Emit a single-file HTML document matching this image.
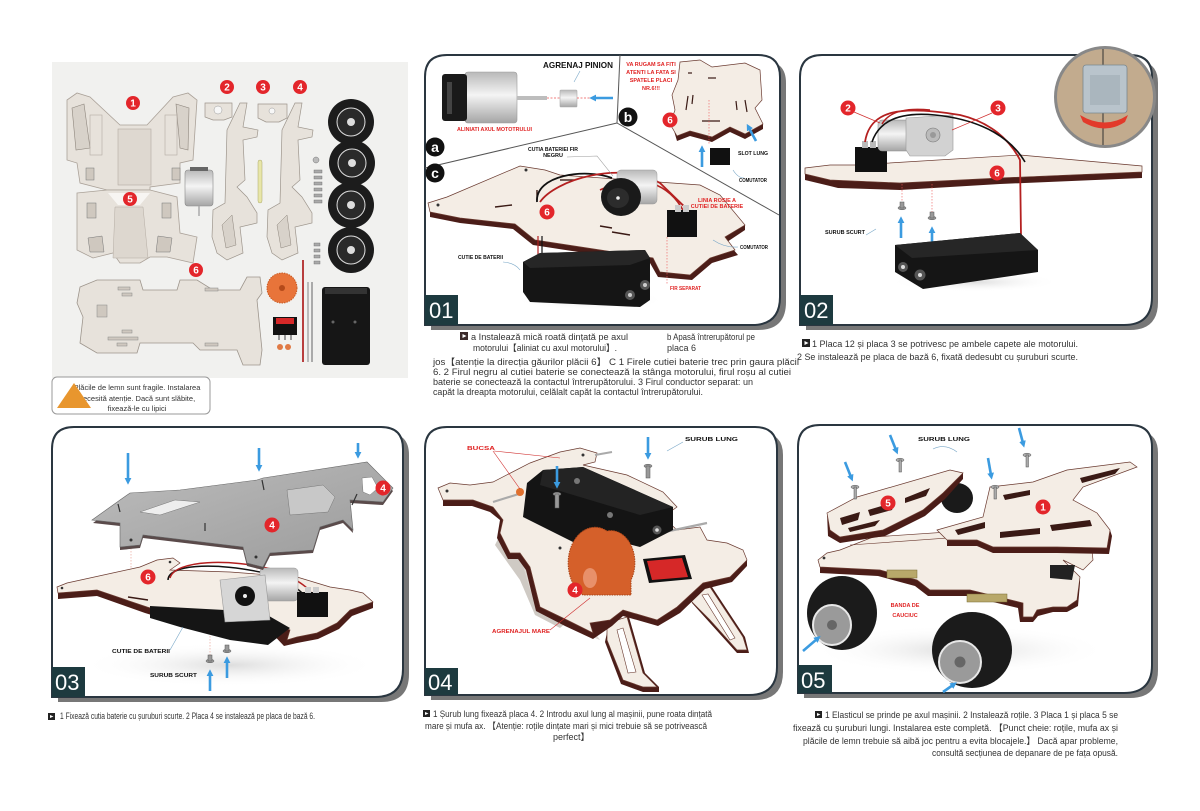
<!DOCTYPE html>
<html><head><meta charset="utf-8">
<style>
html,body{margin:0;padding:0;background:#fff;}
svg{display:block;}
text{font-family:"Liberation Sans",sans-serif;}
.lb{font-weight:bold;font-size:5.5px;fill:#111;}
.lr{font-weight:bold;font-size:5.5px;fill:#e02424;}
.n circle{fill:#e3262b;}
.n text{fill:#fff;font-weight:bold;font-size:10px;text-anchor:middle;}
.ba{stroke:#3b9be0;stroke-width:2.6;fill:none;marker-end:url(#ah);}
.w{fill:#f4ede5;stroke:#6a3a30;stroke-width:.7;}
.e{fill:#4b1d18;}
.p{font-size:9px;fill:#333;}
.fr{fill:#fff;stroke:#2a3640;stroke-width:2;}
.sh{fill:#777;}
.lbx{fill:#1d3a3f;}
.lbt{fill:#fff;font-size:22px;}
.ld{stroke:#7aa8c8;stroke-width:.6;fill:none;}
.ldr{stroke:#d03030;stroke-width:.6;fill:none;}
</style></head>
<body>
<svg width="1200" height="811" viewBox="0 0 1200 811" xmlns="http://www.w3.org/2000/svg">
<defs>
<marker id="ah" viewBox="0 0 10 10" refX="3" refY="5" markerWidth="2.6" markerHeight="2.6" orient="auto"><path d="M0,0 L10,5 L0,10 Z" fill="#3b9be0"/></marker>
<linearGradient id="sil" x1="0" y1="0" x2="0" y2="1"><stop offset="0" stop-color="#b9b9b9"/><stop offset=".45" stop-color="#f4f4f4"/><stop offset="1" stop-color="#a5a5a5"/></linearGradient>
<linearGradient id="gry" x1="0" y1="0" x2="1" y2="1"><stop offset="0" stop-color="#bdbdbd"/><stop offset="1" stop-color="#9a9a9a"/></linearGradient>
<radialGradient id="shd" cx=".5" cy=".5" r=".5"><stop offset="0" stop-color="#ddd"/><stop offset="1" stop-color="#fff" stop-opacity="0"/></radialGradient>
</defs>
<rect width="1200" height="811" fill="#fff"/>

<!-- ================= PARTS AREA ================= -->
<rect x="52" y="62" width="356" height="316" fill="#f1f1ef"/>
<!-- plate 1 -->
<polygon points="67,100 77,93 90,97 120,125 147,125 173,97 188,93 197,100 193,160 180,163 180,183 150,187 150,190 107,190 80,183 77,163 67,160" fill="#e7e2db" stroke="#aaa198" stroke-width=".8"/>
<polygon points="72,108 84,104 90,148 76,150" fill="#d8d2ca" stroke="#8d857c" stroke-width=".6"/>
<polygon points="176,104 189,108 188,150 180,148" fill="#d8d2ca" stroke="#8d857c" stroke-width=".6"/>
<rect x="118" y="129" width="33" height="56" fill="#ded8d0" stroke="#b3aba2" stroke-width=".6"/>
<rect x="90" y="115" width="12" height="40" fill="none" stroke="#b3aba2" stroke-width=".6"/>
<rect x="165" y="115" width="12" height="40" fill="none" stroke="#b3aba2" stroke-width=".6"/>
<rect x="86" y="168" width="8" height="12" fill="#cfc8bf" stroke="#777" stroke-width=".5"/>
<rect x="172" y="168" width="8" height="12" fill="#cfc8bf" stroke="#777" stroke-width=".5"/>
<!-- plate 5 -->
<polygon points="77,193 107,190 150,190 177,197 180,233 197,237 193,263 167,257 150,257 140,263 120,263 113,253 93,258 77,250 77,232" fill="#e7e2db" stroke="#aaa198" stroke-width=".8"/>
<polygon points="108,193 150,193 140,205 118,205" fill="#f7f5f2"/>
<polygon points="115,207 143,207 148,258 113,258" fill="#ddd7cf" stroke="#b3aba2" stroke-width=".5"/>
<rect x="87" y="203" width="9" height="15" fill="#cfc8bf" stroke="#777" stroke-width=".5"/>
<rect x="162" y="203" width="9" height="15" fill="#cfc8bf" stroke="#777" stroke-width=".5"/>
<polygon points="88,238 102,236 104,252 90,252" fill="#cfc8bf" stroke="#777" stroke-width=".5"/>
<polygon points="158,236 172,238 170,252 156,252" fill="#cfc8bf" stroke="#777" stroke-width=".5"/>
<g class="n" transform="translate(133,103)"><circle r="7"/><text y="3.5">1</text></g>
<g class="n" transform="translate(130,199)"><circle r="7"/><text y="3.5">5</text></g>
<!-- motor -->
<rect x="185" y="170" width="28" height="36" rx="3" fill="url(#sil)" stroke="#888" stroke-width=".6"/>
<rect x="190" y="167" width="18" height="4" fill="#666"/>
<line x1="199" y1="206" x2="199" y2="216" stroke="#aaa" stroke-width="1.5"/>
<!-- small plates 2,3 -->
<polygon points="205,103 232,103 232,117 224,120 213,120 205,117" fill="#e7e2db" stroke="#9d958c" stroke-width=".7"/>
<circle cx="218" cy="110" r="4" fill="#f7f7f7" stroke="#999" stroke-width=".5"/>
<polygon points="258,104 287,104 287,118 279,122 266,122 258,118" fill="#e7e2db" stroke="#9d958c" stroke-width=".7"/>
<circle cx="272" cy="111" r="3" fill="#f7f7f7" stroke="#999" stroke-width=".5"/>
<g class="n" transform="translate(227,87)"><circle r="7"/><text y="3.5">2</text></g>
<g class="n" transform="translate(263,87)"><circle r="7"/><text y="3.5">3</text></g>
<g class="n" transform="translate(300,87)"><circle r="7"/><text y="3.5">4</text></g>
<!-- side plates 4 -->
<polygon points="212,237 213,210 225,203 227,130 240,103 247,103 243,127 258,130 257,137 243,140 245,180 237,187 247,197 257,213 257,223 240,227 243,253 227,260 217,253" fill="#e7e2db" stroke="#9d958c" stroke-width=".7"/>
<polygon points="267,237 268,210 280,203 282,130 295,103 302,103 298,127 313,130 312,137 298,140 300,180 292,187 302,197 312,213 312,223 295,227 298,253 282,260 272,253" fill="#e7e2db" stroke="#9d958c" stroke-width=".7"/>
<polygon points="222,225 232,215 236,245 226,248" fill="#d8d2ca" stroke="#8d857c" stroke-width=".5"/>
<polygon points="277,225 287,215 291,245 281,248" fill="#d8d2ca" stroke="#8d857c" stroke-width=".5"/>
<rect x="258" y="160" width="4" height="43" rx="2" fill="#e8e6a8" stroke="#aaa86a" stroke-width=".5"/>
<!-- screws -->
<circle cx="316" cy="160" r="3" fill="#bbb" stroke="#777" stroke-width=".5"/>
<g fill="#aaa" stroke="#666" stroke-width=".4">
<rect x="314" y="170" width="8" height="3"/><rect x="314" y="176" width="8" height="3"/><rect x="314" y="182" width="8" height="3"/><rect x="314" y="188" width="8" height="3"/><rect x="314" y="194" width="8" height="3"/><rect x="314" y="200" width="8" height="3"/>
<rect x="314" y="243" width="6" height="3"/><rect x="314" y="249" width="6" height="3"/><rect x="314" y="255" width="6" height="3"/><rect x="314" y="261" width="6" height="3"/>
</g>
<!-- wheels -->
<g>
<circle cx="351" cy="122" r="23" fill="#1c1c1c"/><circle cx="351" cy="122" r="14" fill="#2a2a2a" stroke="#ddd" stroke-width="1"/><circle cx="351" cy="122" r="4" fill="#ddd"/>
<circle cx="352" cy="163" r="23" fill="#1c1c1c"/><circle cx="352" cy="163" r="14" fill="#2a2a2a" stroke="#ddd" stroke-width="1"/><circle cx="352" cy="163" r="4" fill="#ddd"/>
<circle cx="351" cy="205" r="23" fill="#1c1c1c"/><circle cx="351" cy="205" r="14" fill="#2a2a2a" stroke="#ddd" stroke-width="1"/><circle cx="351" cy="205" r="4" fill="#ddd"/>
<circle cx="351" cy="250" r="23" fill="#1c1c1c"/><circle cx="351" cy="250" r="14" fill="#2a2a2a" stroke="#ddd" stroke-width="1"/><circle cx="351" cy="250" r="4" fill="#ddd"/>
</g>
<!-- plate 6 -->
<polygon points="80,287 97,280 140,280 143,290 177,290 180,280 197,280 213,290 240,290 247,277 260,277 262,293 257,300 262,350 260,365 243,365 237,350 200,350 193,343 140,343 137,353 97,353 80,343 83,317 77,303" fill="#e7e2db" stroke="#9d958c" stroke-width=".8"/>
<g fill="#cfc8bf" stroke="#888" stroke-width=".5">
<rect x="118" y="287" width="12" height="3"/><rect x="122" y="293" width="10" height="3"/><rect x="205" y="288" width="13" height="3"/>
<rect x="97" y="305" width="10" height="12"/><rect x="122" y="330" width="10" height="3"/><rect x="108" y="337" width="30" height="3"/><rect x="117" y="343" width="10" height="3"/><rect x="205" y="343" width="13" height="3"/>
</g>
<g class="n" transform="translate(196,270)"><circle r="7"/><text y="3.5">6</text></g>
<!-- gear, switch, rods, battery -->
<circle cx="282" cy="288" r="15" fill="#e8743a" stroke="#c95a22" stroke-width="1" stroke-dasharray="1.5 1"/>
<circle cx="282" cy="288" r="3" fill="#b44a1a"/>
<rect x="273" y="317" width="24" height="18" fill="#111"/>
<rect x="276" y="318" width="18" height="6" fill="#d62828"/>
<rect x="278" y="335" width="2" height="5" fill="#999"/><rect x="284" y="335" width="2" height="5" fill="#999"/><rect x="290" y="335" width="2" height="5" fill="#999"/>
<circle cx="280" cy="347" r="3" fill="#e07a45"/><circle cx="288" cy="347" r="3" fill="#e07a45"/>
<line x1="303" y1="260" x2="303" y2="362" stroke="#b22a2a" stroke-width="1.8"/>
<line x1="308" y1="282" x2="308" y2="362" stroke="#bbb" stroke-width="2"/>
<line x1="312" y1="282" x2="312" y2="362" stroke="#aaa" stroke-width="2"/>
<rect x="322" y="287" width="48" height="78" rx="3" fill="#161616"/>
<rect x="325" y="288" width="42" height="6" fill="#333"/>
<circle cx="333" cy="322" r="1.5" fill="#666"/><circle cx="355" cy="322" r="1.5" fill="#666"/>

<!-- warning box -->
<rect x="52" y="377" width="158" height="37" rx="5" fill="#fff" stroke="#999" stroke-width="1"/>
<text x="137" y="390" font-size="7.5" fill="#333" text-anchor="middle">Plăcile de lemn sunt fragile. Instalarea</text>
<text x="137" y="401" font-size="7.5" fill="#333" text-anchor="middle">necesită atenție. Dacă sunt slăbite,</text>
<text x="137" y="411" font-size="7.5" fill="#333" text-anchor="middle">fixează-le cu lipici</text>
<polygon points="74,383 91,408 57,408" fill="#e8962e"/>

<!-- ================= PANEL 01 ================= -->
<path class="sh" d="M431,330 V82 Q431,61 453,61 H764 Q786,61 786,83 V302 Q786,330 758,330 Z"/>
<path class="fr" d="M425,325 V77 Q425,55 447,55 H758 Q780,55 780,77 V297 Q780,325 752,325 Z"/>
<!-- dividers -->
<line x1="425" y1="168" x2="617" y2="123" stroke="#555" stroke-width="1"/>
<line x1="620" y1="55" x2="617" y2="123" stroke="#555" stroke-width="1"/>
<line x1="617" y1="123" x2="779" y2="215" stroke="#555" stroke-width="1"/>
<!-- section a -->
<rect x="465" y="72" width="52" height="51" rx="3" fill="url(#sil)" stroke="#999" stroke-width=".6"/>
<rect x="442" y="74" width="25" height="47" rx="3" fill="#1a1a1a"/>
<rect x="447" y="82" width="5" height="32" fill="#444"/>
<rect x="517" y="96" width="30" height="4" fill="#bdbdbd"/>
<rect x="560" y="90" width="17" height="17" rx="1" fill="url(#sil)" stroke="#aaa" stroke-width=".6"/>
<line x1="547" y1="98" x2="560" y2="98" stroke="#e55" stroke-width=".7" stroke-dasharray="2 1.5"/>
<line x1="577" y1="98" x2="590" y2="98" stroke="#e55" stroke-width=".7" stroke-dasharray="2 1.5"/>
<path class="ba" d="M613,98 L594,98"/>
<text x="543" y="68" font-size="8.5" font-weight="bold" fill="#111" textLength="70" lengthAdjust="spacingAndGlyphs">AGRENAJ PINION</text>
<line x1="580" y1="71" x2="574" y2="82" stroke="#7aa8c8" stroke-width=".6"/>
<text x="457" y="131" class="lr" textLength="75" lengthAdjust="spacingAndGlyphs">ALINIATI AXUL MOTOTRULUI</text>
<circle cx="435" cy="147" r="9.5" fill="#111"/><text x="435" y="152" font-size="14" font-weight="bold" fill="#fff" text-anchor="middle">a</text>
<!-- section b -->
<text x="651" y="66" class="lr" font-size="6.5" text-anchor="middle">VA RUGAM SA FITI</text>
<text x="651" y="74" class="lr" font-size="6.5" text-anchor="middle">ATENTI LA FATA SI</text>
<text x="651" y="82" class="lr" font-size="6.5" text-anchor="middle">SPATELE PLACI</text>
<text x="651" y="90" class="lr" font-size="6.5" text-anchor="middle">NR.6!!!</text>
<polygon class="e" points="672,124 677,141 690,136 712,142 730,132 745,139 763,129 763,124 745,134 730,127 712,137 690,131 677,136"/>
<polygon class="w" points="680,62 700,60 712,67 745,63 760,70 762,100 755,108 763,124 745,134 730,127 712,137 690,131 677,136 670,124 675,110 672,95 678,80"/>
<g stroke="#3a1a15" stroke-width="1.2"><line x1="688" y1="73" x2="692" y2="73"/><line x1="708" y1="78" x2="716" y2="78"/><line x1="702" y1="121" x2="720" y2="121"/><line x1="688" y1="96" x2="686" y2="110"/><line x1="745" y1="100" x2="747" y2="112"/><line x1="736" y1="101" x2="737" y2="110"/><line x1="693" y1="95" x2="692" y2="104"/></g>
<line x1="709" y1="100" x2="709" y2="145" stroke="#e55" stroke-width=".6" stroke-dasharray="1.5 1.5"/>
<g class="n" transform="translate(670,120)"><circle r="7.5"/><text y="3.5">6</text></g>
<circle cx="628" cy="117" r="9.5" fill="#111"/><text x="628" y="122" font-size="14" font-weight="bold" fill="#fff" text-anchor="middle">b</text>
<rect x="710" y="148" width="20" height="17" fill="#111"/>
<path class="ba" d="M702,167 L702,150"/>
<path class="ba" d="M756,141 L749,128"/>
<text x="738" y="155" class="lb" textLength="30" lengthAdjust="spacingAndGlyphs">SLOT LUNG</text>
<path class="ld" d="M733,170 Q738,178 744,178"/>
<text x="739" y="182" class="lb" font-size="4.8" textLength="28" lengthAdjust="spacingAndGlyphs">COMUTATOR</text>
<!-- section c -->
<circle cx="435" cy="173" r="9.5" fill="#111"/><text x="435" y="178" font-size="14" font-weight="bold" fill="#fff" text-anchor="middle">c</text>
<polygon class="e" points="430,212 460,218 515,224 535,240 653,258 660,272 690,275 710,258 735,250 725,237 745,225 745,230 727,242 738,255 712,263 692,280 658,277 650,263 533,245 513,229 460,223 430,217"/>
<polygon class="w" points="428,203 447,197 520,166 545,170 560,175 700,185 720,195 745,225 725,237 735,250 710,258 690,275 660,272 653,258 535,240 515,224 460,218 430,212"/>
<g stroke="#3a1a15" stroke-width="1.4"><line x1="495" y1="207" x2="512" y2="205"/><line x1="560" y1="180" x2="574" y2="180"/><line x1="612" y1="232" x2="630" y2="235"/><line x1="600" y1="226" x2="612" y2="228"/><line x1="537" y1="190" x2="537" y2="200"/></g>
<circle cx="438" cy="205" r="1.5" fill="#333"/><circle cx="526" cy="170" r="1.5" fill="#333"/>
<!-- wires -->
<path d="M537,202 C535,175 585,168 612,178" stroke="#111" stroke-width="1.8" fill="none"/>
<path d="M540,202 C555,180 620,160 660,183 L690,212" stroke="#b42020" stroke-width="1.8" fill="none"/>
<path d="M600,190 C640,170 670,185 684,212" stroke="#b42020" stroke-width="1.6" fill="none"/>
<!-- motor c -->
<rect x="617" y="170" width="40" height="34" rx="4" fill="url(#sil)" stroke="#999" stroke-width=".5"/>
<ellipse cx="621" cy="197" rx="20" ry="19" fill="#1a1a1a"/>
<ellipse cx="618" cy="198" rx="11" ry="10" fill="#2c2c2c"/>
<circle cx="618" cy="198" r="1.8" fill="#eee"/>
<rect x="667" y="210" width="30" height="27" fill="#111"/>
<rect x="675" y="205" width="6" height="7" fill="#ccc"/><rect x="683" y="205" width="6" height="7" fill="#ccc"/>
<g class="n" transform="translate(547,212)"><circle r="7.5"/><text y="3.5">6</text></g>
<!-- battery c -->
<line x1="538" y1="236" x2="538" y2="258" stroke="#b42020" stroke-width="1.2"/>
<line x1="542" y1="236" x2="542" y2="258" stroke="#111" stroke-width="1.2"/>
<ellipse cx="590" cy="300" rx="75" ry="10" fill="url(#shd)"/>
<polygon points="523,262 540,253 645,250 650,258 650,300 640,307 530,302 523,292" fill="#151515"/>
<polygon points="523,262 540,253 645,250 650,258 630,265 530,268" fill="#262626"/>
<circle cx="645" cy="285" r="5" fill="#555"/><circle cx="645" cy="285" r="2" fill="#ccc"/>
<circle cx="630" cy="295" r="5" fill="#555"/><circle cx="630" cy="295" r="2" fill="#ccc"/>
<line x1="667" y1="237" x2="667" y2="285" stroke="#e55" stroke-width=".6" stroke-dasharray="1.5 1.5"/>
<text x="528" y="151" class="lb" textLength="50" lengthAdjust="spacingAndGlyphs">CUTIA BATERIEI FIR</text>
<text x="553" y="157" class="lb" text-anchor="middle">NEGRU</text>
<path class="ld" d="M567,157 L597,156 L613,176" style="stroke:#999"/>
<text x="717" y="202" class="lr" font-size="4.8" text-anchor="middle">LINIA ROSIE A</text>
<text x="717" y="208" class="lr" font-size="4.8" text-anchor="middle">CUTIEI DE BATERIE</text>
<path class="ld" d="M713,240 Q725,248 738,247"/>
<text x="740" y="249" class="lb" font-size="4.8" textLength="28" lengthAdjust="spacingAndGlyphs">COMUTATOR</text>
<text x="458" y="259" class="lb" textLength="45" lengthAdjust="spacingAndGlyphs">CUTIE DE BATERII</text>
<path class="ld" d="M503,262 Q515,263 520,270"/>
<text x="670" y="290" class="lr" textLength="31" lengthAdjust="spacingAndGlyphs">FIR SEPARAT</text>
<rect class="lbx" x="425" y="295" width="33" height="30"/>
<text class="lbt" x="429" y="318">01</text>

<!-- text 01 -->
<rect x="460" y="332" width="8" height="8" fill="#3a2a2a"/><polygon points="462.5,334 466.5,336 462.5,338" fill="#fff"/>
<text class="p" x="471" y="340" textLength="157" lengthAdjust="spacingAndGlyphs">a Instalează mică roată dințată pe axul</text>
<text class="p" x="473" y="351" textLength="144" lengthAdjust="spacingAndGlyphs">motorului【aliniat cu axul motorului】.</text>
<text class="p" x="667" y="340" font-size="7.5" textLength="88" lengthAdjust="spacingAndGlyphs">b Apasă întrerupătorul pe</text>
<text class="p" x="667" y="351" font-size="7.5">placa 6</text>
<text class="p" x="433" y="365" textLength="366" lengthAdjust="spacingAndGlyphs">jos【atenție la direcția găurilor plăcii 6】 C 1 Firele cutiei baterie trec prin gaura plăcii</text>
<text class="p" x="433" y="375" textLength="358" lengthAdjust="spacingAndGlyphs">6. 2 Firul negru al cutiei baterie se conectează la stânga motorului, firul roșu al cutiei</text>
<text class="p" x="433" y="385" textLength="320" lengthAdjust="spacingAndGlyphs">baterie se conectează la contactul întrerupătorului. 3 Firul conductor separat: un</text>
<text class="p" x="433" y="395" textLength="270" lengthAdjust="spacingAndGlyphs">capăt la dreapta motorului, celălalt capăt la contactul întrerupătorului.</text>

<!-- ================= PANEL 02 ================= -->
<path class="sh" d="M806,330 V82 Q806,61 828,61 H1136 Q1158,61 1158,83 V302 Q1158,330 1130,330 Z"/>
<path class="fr" d="M800,325 V77 Q800,55 822,55 H1130 Q1152,55 1152,77 V297 Q1152,325 1124,325 Z"/>
<!-- inset circle -->
<circle cx="1105" cy="97" r="51" fill="#888"/>
<circle cx="1105" cy="97" r="48" fill="#c2ab8e"/>
<line x1="1103" y1="49" x2="1103" y2="145" stroke="#333" stroke-width="1"/>
<rect x="1083" y="65" width="44" height="48" rx="3" fill="#b9c4cc" stroke="#7a8890" stroke-width=".8"/>
<rect x="1090" y="75" width="30" height="30" fill="#aab6be"/>
<path d="M1080,115 Q1105,130 1128,115 L1125,122 Q1105,135 1083,122 Z" fill="#e23a2a"/>
<!-- plate -->
<polygon class="e" points="805,174 830,180 900,183 1000,178 1142,172 1142,178 1000,184 900,190 838,188 830,186 805,180"/>
<polygon class="w" points="805,168 830,165 857,165 1020,155 1142,166 1142,172 1000,178 900,183 830,180 805,174"/>
<!-- switch and motor -->
<rect x="855" y="147" width="32" height="25" fill="#111"/>
<rect x="862" y="141" width="6" height="7" fill="#bbb"/><rect x="870" y="141" width="6" height="7" fill="#bbb"/>
<rect x="878" y="120" width="32" height="31" rx="4" fill="url(#sil)" stroke="#888" stroke-width=".5"/>
<polygon points="906,118 953,115 953,150 945,156 910,156 906,150" fill="#d2d2d2" stroke="#999" stroke-width=".6"/>
<circle cx="933" cy="135" r="7" fill="#bbb" stroke="#777" stroke-width=".6"/><circle cx="933" cy="135" r="3" fill="#999"/>
<path d="M865,142 C870,110 900,105 960,115 C990,122 1010,140 1020,160 L1021,236" stroke="#b42020" stroke-width="1.8" fill="none"/>
<path d="M872,142 C880,118 905,112 935,115 C985,120 1012,140 1025,162" stroke="#111" stroke-width="1.6" fill="none"/>
<path d="M882,124 C890,110 910,108 930,110" stroke="#b42020" stroke-width="1.4" fill="none"/>
<g class="n" transform="translate(848,108)"><circle r="7.5"/><text y="3.5">2</text></g>
<line x1="854" y1="112" x2="880" y2="123" stroke="#d03030" stroke-width=".7"/>
<g class="n" transform="translate(998,108)"><circle r="7.5"/><text y="3.5">3</text></g>
<line x1="992" y1="113" x2="952" y2="130" stroke="#d03030" stroke-width=".7"/>
<g class="n" transform="translate(997,173)"><circle r="7.5"/><text y="3.5">6</text></g>
<line x1="902" y1="184" x2="902" y2="205" stroke="#e55" stroke-width=".6" stroke-dasharray="1.5 1.5"/>
<line x1="932" y1="184" x2="932" y2="215" stroke="#e55" stroke-width=".6" stroke-dasharray="1.5 1.5"/>
<g fill="#999" stroke="#555" stroke-width=".5"><ellipse cx="902" cy="208" rx="4" ry="1.8"/><rect x="900" y="202" width="4" height="6"/><ellipse cx="932" cy="218" rx="4" ry="1.8"/><rect x="930" y="212" width="4" height="6"/></g>
<path class="ba" d="M901,238 L901,221"/>
<path class="ba" d="M932,248 L932,231"/>
<text x="825" y="234" class="lb" textLength="40" lengthAdjust="spacingAndGlyphs">SURUB SCURT</text>
<line x1="866" y1="235" x2="876" y2="229" stroke="#7aa8c8" stroke-width=".6"/>
<ellipse cx="975" cy="282" rx="85" ry="10" fill="url(#shd)"/>
<polygon points="895,245 1020,233 1038,250 1038,272 923,289 895,272" fill="#151515"/>
<polygon points="895,245 1020,233 1038,250 912,258" fill="#262626"/>
<circle cx="903" cy="267" r="5" fill="#555"/><circle cx="903" cy="267" r="2" fill="#ddd"/>
<circle cx="920" cy="275" r="5.5" fill="#555"/><circle cx="920" cy="275" r="2" fill="#ddd"/>
<rect class="lbx" x="800" y="295" width="33" height="30"/>
<text class="lbt" x="804" y="318">02</text>
<!-- text 02 -->
<rect x="802" y="339" width="8" height="8" fill="#222"/><polygon points="804.5,341 808.5,343 804.5,345" fill="#fff"/>
<text class="p" x="812" y="347" textLength="266" lengthAdjust="spacingAndGlyphs">1 Placa 12 și placa 3 se potrivesc pe ambele capete ale motorului.</text>
<text class="p" x="797" y="360" textLength="281" lengthAdjust="spacingAndGlyphs">2 Se instalează pe placa de bază 6, fixată dedesubt cu șuruburi scurte.</text>

<!-- ================= PANEL 03 ================= -->
<path class="sh" d="M58,702 V454 Q58,433 80,433 H387 Q409,433 409,455 V674 Q409,702 381,702 Z"/>
<path class="fr" d="M52,697 V449 Q52,427 74,427 H381 Q403,427 403,449 V669 Q403,697 375,697 Z"/>
<ellipse cx="230" cy="665" rx="150" ry="22" fill="url(#shd)"/>
<!-- dashed guides -->
<g stroke="#e08070" stroke-width=".5" stroke-dasharray="1.5 1.5">
<line x1="131" y1="545" x2="131" y2="607"/><line x1="210" y1="600" x2="210" y2="655"/><line x1="257" y1="565" x2="257" y2="625"/>
</g>
<!-- base plate 6 -->
<polygon class="e" points="58,593 97,590 147,607 180,617 203,623 270,623 290,630 287,640 297,637 317,633 337,623 350,610 373,602 373,608 352,616 339,629 318,639 297,643 284,646 268,629 203,629 178,623 145,613 97,596 58,599"/>
<polygon class="w" points="57,587 67,583 140,567 157,560 173,558 180,563 170,570 230,572 297,577 330,587 350,590 363,593 373,602 350,610 337,623 317,633 297,637 287,640 290,630 270,623 203,623 180,617 147,607 97,590 58,593"/>
<polygon points="150,606 262,612 290,628 268,645 230,640 180,627 150,618" fill="#151515"/>
<line x1="128" y1="597" x2="148" y2="600" stroke="#3a1a15" stroke-width="1.4"/>
<circle cx="62" cy="588" r="1.3" fill="#333"/><circle cx="170" cy="562" r="1.3" fill="#333"/>
<g class="n" transform="translate(148,577)"><circle r="7.5"/><text y="3.5">6</text></g>
<path d="M168,580 C168,565 210,562 260,572 C285,578 300,590 305,596" stroke="#111" stroke-width="1.5" fill="none"/>
<path d="M170,578 C175,560 230,558 275,570 C295,578 310,588 312,595" stroke="#b42020" stroke-width="1.5" fill="none"/>
<rect x="260" y="568" width="38" height="33" rx="4" fill="url(#sil)" stroke="#999" stroke-width=".5"/>
<polygon points="220,580 265,575 270,620 225,622" fill="#d6d6d6" stroke="#999" stroke-width=".6"/>
<circle cx="245" cy="596" r="10" fill="#111"/><circle cx="245" cy="596" r="2" fill="#eee"/>
<rect x="297" y="592" width="31" height="25" fill="#111"/>
<rect x="305" y="587" width="6" height="6" fill="#ccc"/><rect x="313" y="587" width="6" height="6" fill="#ccc"/>
<!-- gray plate 4 -->
<polygon points="93,523 120,503 130,496 180,493 257,483 263,481 367,465 393,491 383,505 350,503 353,533 343,523 320,530 313,553 270,556 263,570 247,566 243,550 143,538 140,548 120,550 120,526" fill="#5a4a4a"/>
<polygon points="92,520 120,500 130,493 180,490 257,480 263,478 367,462 393,488 383,502 350,500 353,530 343,520 320,527 313,550 270,553 263,567 247,563 243,547 143,535 140,545 120,547 120,523" fill="url(#gry)" stroke="#666" stroke-width=".6"/>
<polygon points="287,490 323,485 335,497 328,512 290,515" fill="#c8c8c8" stroke="#777" stroke-width=".5"/>
<polygon points="362,478 372,477 378,488 370,495 363,492" fill="#fff" stroke="#777" stroke-width=".5"/>
<polygon points="140,512 175,500 200,502 160,515" fill="#eee" stroke="#777" stroke-width=".5"/>
<g stroke="#333" stroke-width="1.2"><line x1="118" y1="504" x2="120" y2="512"/><line x1="205" y1="523" x2="205" y2="531"/><line x1="262" y1="480" x2="264" y2="490"/><line x1="357" y1="494" x2="352" y2="505"/></g>
<circle cx="131" cy="540" r="1.5" fill="#333"/><circle cx="256" cy="557" r="1.5" fill="#333"/>
<g class="n" transform="translate(383,488)"><circle r="7.5"/><text y="3.5">4</text></g>
<g class="n" transform="translate(272,525)"><circle r="7.5"/><text y="3.5">4</text></g>
<path class="ba" d="M128,453 L128,480"/>
<path class="ba" d="M259,448 L259,467"/>
<path class="ba" d="M358,443 L358,454"/>
<g fill="#999" stroke="#555" stroke-width=".5"><ellipse cx="210" cy="661" rx="4" ry="1.8"/><rect x="208" y="655" width="4" height="6"/><ellipse cx="227" cy="651" rx="4" ry="1.8"/><rect x="225" y="645" width="4" height="6"/></g>
<path class="ba" d="M210,691 L210,674"/>
<path class="ba" d="M227,678 L227,661"/>
<text x="112" y="653" class="lb" textLength="58" lengthAdjust="spacingAndGlyphs">CUTIE DE BATERII</text>
<line x1="170" y1="650" x2="183" y2="627" stroke="#7aa8c8" stroke-width=".6"/>
<text x="150" y="677" class="lb" textLength="47" lengthAdjust="spacingAndGlyphs">SURUB SCURT</text>
<rect class="lbx" x="52" y="667" width="33" height="30"/>
<text class="lbt" x="55" y="690">03</text>
<!-- text 03 -->
<rect x="48" y="713" width="7" height="7" fill="#222"/><polygon points="50,715 53.5,716.5 50,718" fill="#fff"/>
<text class="p" x="60" y="719" font-size="7" textLength="255" lengthAdjust="spacingAndGlyphs">1 Fixează cutia baterie cu șuruburi scurte. 2 Placa 4 se instalează pe placa de bază 6.</text>

<!-- ================= PANEL 04 ================= -->
<path class="sh" d="M431,700 V454 Q431,433 453,433 H761 Q783,433 783,455 V672 Q783,700 755,700 Z"/>
<path class="fr" d="M425,695 V449 Q425,427 447,427 H755 Q777,427 777,449 V667 Q777,695 749,695 Z"/>
<!-- legs -->
<polygon class="e" points="609,623 629,617 645,673 659,687 659,692 643,692 621,684 605,642"/>
<polygon class="w" points="607,623 627,617 643,673 657,687 643,687 623,680 607,640"/>
<polygon points="617,630 623,628 636,672 628,673" fill="#fff" stroke="#6a3a30" stroke-width=".6"/>
<polygon class="e" points="695,590 712,587 745,637 749,653 737,653 710,623 692,603"/>
<polygon class="w" points="693,590 710,587 743,637 747,650 737,650 710,620 690,600"/>
<polygon points="702,595 708,594 735,638 730,640" fill="#fff" stroke="#6a3a30" stroke-width=".6"/>
<!-- side gray -->
<polygon points="500,535 530,565 540,607 567,622 560,628 535,615 520,580 495,545" fill="#cfcac4"/>
<polygon points="520,555 590,625 600,640 575,630 530,590" fill="#ddd8d2"/>
<!-- base -->
<polygon class="e" points="443,500 473,500 493,507 503,520 500,533 510,553 520,553 530,567 540,607 567,620 593,633 590,623 610,620 623,610 657,620 677,607 703,583 730,577 747,560 747,566 732,582 705,589 680,613 658,626 623,616 612,626 593,639 565,626 536,611 526,570 518,559 508,559 497,538 500,520 490,512 472,506 443,506"/>
<polygon class="w" points="438,488 450,483 470,485 493,482 530,463 560,452 580,448 597,453 595,462 583,465 627,475 663,492 677,507 663,517 677,530 700,527 707,540 727,543 743,550 747,560 730,577 703,583 677,607 657,620 623,610 610,620 590,623 593,633 567,620 540,607 530,567 520,553 510,553 500,533 503,520 493,507 473,500 443,500"/>
<circle cx="447" cy="491" r="1.5" fill="#333"/><circle cx="583" cy="455" r="1.5" fill="#333"/><circle cx="560" cy="548" r="1.5" fill="#333"/>
<!-- axles -->
<line x1="493" y1="502" x2="522" y2="493" stroke="#aaa" stroke-width="2.2"/>
<line x1="595" y1="455" x2="612" y2="452" stroke="#aaa" stroke-width="2"/>
<line x1="660" y1="533" x2="707" y2="523" stroke="#aaa" stroke-width="2.2"/>
<line x1="580" y1="578" x2="600" y2="570" stroke="#aaa" stroke-width="2.2"/>
<circle cx="520" cy="492" r="4" fill="#e0702e"/>
<!-- battery -->
<polygon points="527,483 543,470 583,467 673,507 673,530 640,547 613,540 593,543 583,547 523,517" fill="#141414"/>
<polygon points="543,470 583,467 673,507 640,515 540,485" fill="#232323"/>
<circle cx="577" cy="481" r="3" fill="#777"/><circle cx="610" cy="515" r="3" fill="#777"/>
<circle cx="620" cy="545" r="4.5" fill="#555"/><circle cx="620" cy="545" r="1.8" fill="#ddd"/>
<circle cx="657" cy="530" r="4.5" fill="#555"/><circle cx="657" cy="530" r="1.8" fill="#ddd"/>
<!-- gear -->
<path d="M583,595 A24,32 0 0 1 607,531 A24,32 0 0 1 631,580 L631,595 Z" fill="#d5602a" stroke="#a84418" stroke-width="1" stroke-dasharray="1.5 1"/>
<ellipse cx="590" cy="578" rx="7" ry="10" fill="#e8906a"/>
<!-- red switch -->
<polygon points="643,559 685,555 692,579 649,583" fill="#111"/>
<polygon points="647,561 682,558 688,577 652,580" fill="#d62828"/>
<!-- screws -->
<g fill="#999" stroke="#555" stroke-width=".5"><ellipse cx="557" cy="494" rx="4" ry="1.8"/><rect x="555" y="494" width="4" height="14"/><ellipse cx="648" cy="466" rx="4" ry="1.8"/><rect x="646" y="466" width="4" height="12"/></g>
<path class="ba" d="M557,466 L557,484"/>
<path class="ba" d="M648,437 L648,455"/>
<text x="467" y="450" class="lr" font-size="7" textLength="28" lengthAdjust="spacingAndGlyphs">BUCSA</text>
<line x1="493" y1="451" x2="520" y2="489" stroke="#d03030" stroke-width=".6"/>
<line x1="494" y1="451" x2="560" y2="458" stroke="#d03030" stroke-width=".6"/>
<text x="685" y="441" class="lb" font-size="7" textLength="53" lengthAdjust="spacingAndGlyphs">SURUB LUNG</text>
<line x1="667" y1="451" x2="683" y2="442" stroke="#7aa8c8" stroke-width=".6"/>
<g class="n" transform="translate(575,590)"><circle r="7.5"/><text y="3.5">4</text></g>
<text x="492" y="633" class="lr" font-size="7" textLength="58" lengthAdjust="spacingAndGlyphs">AGRENAJUL MARE</text>
<line x1="550" y1="630" x2="590" y2="598" stroke="#d03030" stroke-width=".6"/>
<rect class="lbx" x="425" y="668" width="33" height="27"/>
<text class="lbt" x="428" y="690">04</text>
<!-- text 04 -->
<rect x="423" y="710" width="7" height="7" fill="#222"/><polygon points="425,712 428.5,713.5 425,715" fill="#fff"/>
<text class="p" x="433" y="717" font-size="7.5" textLength="279" lengthAdjust="spacingAndGlyphs">1 Șurub lung fixează placa 4. 2 Introdu axul lung al mașinii, pune roata dințată</text>
<text class="p" x="425" y="729" font-size="7.5" textLength="282" lengthAdjust="spacingAndGlyphs">mare și mufa ax. 【Atenție: roțile dințate mari și mici trebuie să se potrivească</text>
<text class="p" x="553" y="740" font-size="7.5">perfect】</text>

<!-- ================= PANEL 05 ================= -->
<path class="sh" d="M804,698 V452 Q804,431 826,431 H1136 Q1158,431 1158,453 V670 Q1158,698 1130,698 Z"/>
<path class="fr" d="M798,693 V447 Q798,425 820,425 H1130 Q1152,425 1152,447 V665 Q1152,693 1124,693 Z"/>
<ellipse cx="960" cy="650" rx="150" ry="25" fill="url(#shd)"/>
<!-- small rear wheel -->
<ellipse cx="957" cy="498" rx="16" ry="15" fill="#1a1a1a"/>
<!-- lower body -->
<polygon class="e" points="820,567 880,570 917,580 930,590 970,590 1023,603 1023,617 1033,617 1037,610 1053,607 1067,607 1077,600 1080,577 1080,583 1078,606 1067,612 1053,612 1038,616 1033,622 1020,622 1018,608 968,596 928,596 915,586 878,576 820,573"/>
<polygon class="w" points="818,560 827,553 840,550 873,537 1023,527 1073,520 1090,533 1093,560 1083,570 1063,560 1080,577 1077,600 1067,607 1053,607 1037,610 1033,617 1023,617 1023,603 970,590 930,590 917,580 880,570 820,567"/>
<line x1="850" y1="545" x2="1060" y2="530" stroke="#6a3a30" stroke-width=".6"/>
<polygon points="1050,565 1075,565 1072,580 1050,578" fill="#222"/>
<circle cx="824" cy="558" r="1.4" fill="#333"/>
<!-- gold bands -->
<rect x="887" y="570" width="30" height="8" fill="#b8a86a" stroke="#776a30" stroke-width=".5"/>
<rect x="967" y="594" width="40" height="8" fill="#b8a86a" stroke="#776a30" stroke-width=".5"/>
<!-- upper plates -->
<polygon class="e" points="827,513 830,530 840,537 883,530 923,510 943,493 963,473 963,479 945,499 925,516 885,536 840,543 828,536"/>
<polygon class="w" points="827,513 857,497 950,470 963,473 943,493 923,510 883,530 840,537 830,530"/>
<g fill="#3a1a15"><polygon points="840,518 860,512 858,520 842,525"/><polygon points="868,510 895,502 892,510 870,516"/><polygon points="905,498 930,488 926,496 905,503"/><polygon points="848,528 880,520 875,526 850,532"/></g>
<polygon class="e" points="947,540 977,540 993,547 1057,547 1107,548 1110,530 1112,536 1109,554 1057,553 993,553 977,546 947,546"/>
<polygon class="w" points="937,530 983,517 990,487 1033,482 1067,470 1130,462 1137,467 1083,487 1073,500 1097,513 1110,530 1107,548 1057,547 993,547 977,540 947,540"/>
<g fill="#3a1a15"><polygon points="955,530 985,522 985,528 958,535"/><polygon points="1000,532 1040,528 1040,534 1000,538"/><polygon points="1050,525 1090,520 1092,526 1052,531"/><polygon points="1080,478 1120,468 1115,474 1082,483"/><polygon points="1003,495 1030,490 1030,495 1005,500"/></g>
<g class="n" transform="translate(888,503)"><circle r="7.5"/><text y="3.5">5</text></g>
<g class="n" transform="translate(1043,507)"><circle r="7.5"/><text y="3.5">1</text></g>
<!-- front wheels -->
<ellipse cx="842" cy="613" rx="35" ry="37" fill="#1b1b1b"/>
<ellipse cx="832" cy="625" rx="19" ry="20" fill="#9a9a9a" stroke="#e8e8e8" stroke-width="2"/>
<circle cx="832" cy="625" r="5" fill="#666"/>
<ellipse cx="972" cy="650" rx="40" ry="38" fill="#1b1b1b"/>
<ellipse cx="960" cy="662" rx="21" ry="21" fill="#9a9a9a" stroke="#e8e8e8" stroke-width="2"/>
<circle cx="960" cy="662" r="5.5" fill="#666"/>
<!-- screws -->
<g fill="#aaa" stroke="#555" stroke-width=".5"><ellipse cx="855" cy="487" rx="4" ry="1.8"/><rect x="854" y="487" width="2.5" height="12"/><ellipse cx="900" cy="460" rx="4" ry="1.8"/><rect x="899" y="460" width="2.5" height="12"/><ellipse cx="995" cy="487" rx="4" ry="1.8"/><rect x="994" y="487" width="2.5" height="12"/><ellipse cx="1027" cy="455" rx="4" ry="1.8"/><rect x="1026" y="455" width="2.5" height="12"/></g>
<path class="ba" d="M845,462 L851,477"/>
<path class="ba" d="M890,435 L896,450"/>
<path class="ba" d="M988,458 L991,475"/>
<path class="ba" d="M1019,428 L1023,443"/>
<path class="ba" d="M803,651 L817,639"/>
<path class="ba" d="M943,692 L953,685"/>
<text x="918" y="441" class="lb" font-size="7" textLength="52" lengthAdjust="spacingAndGlyphs">SURUB LUNG</text>
<path d="M933,449 Q945,443 957,452" stroke="#7aa8c8" stroke-width=".6" fill="none"/>
<text x="905" y="607" class="lr" font-size="7" text-anchor="middle">BANDA DE</text>
<text x="905" y="617" class="lr" font-size="7" text-anchor="middle">CAUCIUC</text>
<rect class="lbx" x="798" y="665" width="34" height="28"/>
<text class="lbt" x="801" y="688">05</text>
<!-- text 05 -->
<rect x="815" y="711" width="7" height="7" fill="#222"/><polygon points="817,713 820.5,714.5 817,716" fill="#fff"/>
<text class="p" x="825" y="718" font-size="8" textLength="293" lengthAdjust="spacingAndGlyphs">1 Elasticul se prinde pe axul mașinii. 2 Instalează roțile. 3 Placa 1 și placa 5 se</text>
<text class="p" x="793" y="731" font-size="8" textLength="325" lengthAdjust="spacingAndGlyphs">fixează cu șuruburi lungi. Instalarea este completă. 【Punct cheie: roțile, mufa ax și</text>
<text class="p" x="803" y="744" font-size="8" textLength="315" lengthAdjust="spacingAndGlyphs">plăcile de lemn trebuie să aibă joc pentru a evita blocajele.】 Dacă apar probleme,</text>
<text class="p" x="932" y="756" font-size="8" textLength="186" lengthAdjust="spacingAndGlyphs">consultă secțiunea de depanare de pe fața opusă.</text>
</svg>
</body></html>
